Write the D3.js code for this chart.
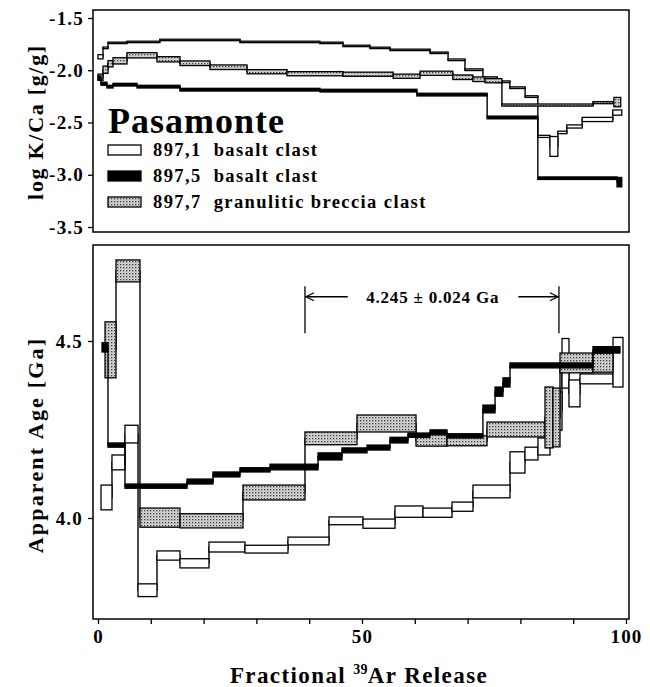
<!DOCTYPE html>
<html>
<head>
<meta charset="utf-8">
<script src="https://cdn.jsdelivr.net/npm/d3@7"></script>
<style>
  body { margin: 0; background: #fff; }
  text { font-family: "Liberation Serif", "Times New Roman", serif; font-weight: bold; fill: #000; }
</style>
</head>
<body>
<svg id="chart" width="650" height="687"></svg>
<script>
// ---- K/Ca spectra (upper panel): step bounds in cumulative % 39Ar, log K/Ca, half-heights
const kcaOpenBounds = [0, 0.95, 1.9, 5.5, 11.7, 26.9, 42.0, 46.4, 51.5, 55.3, 62.9, 66.3, 69.5, 72.9, 75.6, 78.0, 80.9, 83.3, 85.6, 87.1, 88.8, 91.7, 97.5, 99.2];
const kcaOpenValues = [-1.871, -1.786, -1.738, -1.729, -1.710, -1.729, -1.738, -1.767, -1.786, -1.805, -1.833, -1.900, -1.995, -2.071, -2.110, -2.167, -2.252, -2.633, -2.729, -2.595, -2.538, -2.471, -2.405];
const kcaOpenErrors = [0.02, 0.008, 0.007, 0.007, 0.007, 0.007, 0.007, 0.007, 0.007, 0.007, 0.007, 0.008, 0.008, 0.008, 0.008, 0.008, 0.008, 0.01, 0.095, 0.012, 0.015, 0.02, 0.025];

const kcaBlackBounds = [0, 0.57, 1.70, 2.84, 7.39, 15.53, 42.05, 60.4, 73.7, 83.3, 98.3, 99.2];
const kcaBlackValues = [-2.071, -2.129, -2.157, -2.138, -2.157, -2.186, -2.195, -2.233, -2.452, -3.033, -3.071];
const kcaBlackErrors = [0.015, 0.015, 0.013, 0.013, 0.013, 0.013, 0.013, 0.013, 0.013, 0.012, 0.045];

const kcaStippleBounds = [0, 0.95, 1.89, 2.84, 5.49, 11.17, 15.53, 21.21, 28.22, 35.8, 46.4, 55.9, 61.0, 67.2, 71.0, 73.3, 76.5, 93.75, 97.7, 99.0];
const kcaStippleValues = [-2.067, -1.995, -1.938, -1.910, -1.857, -1.895, -1.933, -1.971, -2.014, -2.033, -2.038, -2.057, -2.029, -2.067, -2.086, -2.100, -2.333, -2.310, -2.305];
const kcaStippleErrors = [0.03, 0.035, 0.03, 0.03, 0.025, 0.025, 0.022, 0.022, 0.02, 0.02, 0.02, 0.02, 0.02, 0.022, 0.022, 0.02, 0.01, 0.01, 0.045];

// ---- Age spectra (lower panel): apparent age in Ga, half-heights
const ageOpenBounds = [0.57, 2.65, 5.11, 7.58, 11.17, 15.53, 21.02, 27.84, 35.98, 43.75, 50.19, 56.25, 61.55, 67.05, 71.02, 78.03, 80.87, 83.33, 85.61, 87.88, 89.20, 91.29, 97.54, 99.43];
const ageOpenValues = [4.058, 4.157, 4.237, 3.796, 3.894, 3.872, 3.918, 3.912, 3.935, 3.992, 3.984, 4.018, 4.015, 4.032, 4.075, 4.157, 4.182, 4.202, 4.302, 4.437, 4.352, 4.393, 4.44];
const ageOpenErrors = [0.035, 0.021, 0.025, 0.018, 0.013, 0.013, 0.014, 0.011, 0.011, 0.011, 0.013, 0.016, 0.013, 0.013, 0.018, 0.03, 0.018, 0.024, 0.054, 0.07, 0.038, 0.014, 0.07];

const ageBlackBounds = [0.76, 1.89, 5.11, 16.86, 21.78, 26.89, 32.58, 41.67, 46.21, 50.95, 55.30, 58.71, 62.88, 66.10, 72.90, 75.20, 76.70, 78.03, 93.75, 98.86];
const ageBlackValues = [4.482, 4.206, 4.090, 4.103, 4.123, 4.136, 4.144, 4.174, 4.191, 4.199, 4.220, 4.234, 4.243, 4.232, 4.308, 4.357, 4.383, 4.431, 4.475];
const ageBlackErrors = [0.013, 0.006, 0.006, 0.007, 0.007, 0.006, 0.008, 0.01, 0.007, 0.007, 0.008, 0.006, 0.006, 0.006, 0.011, 0.013, 0.013, 0.007, 0.009];

const ageStippleBounds = [1.33, 3.41, 7.95, 15.53, 27.46, 39.20, 49.05, 60.23, 66.10, 73.67, 84.66, 86.17, 87.50, 93.75, 97.54];
const ageStippleValues = [4.475, 4.698, 4.001, 3.992, 4.072, 4.225, 4.267, 4.219, 4.218, 4.250, 4.284, 4.284, 4.438, 4.439];
const ageStippleErrors = [0.079, 0.031, 0.027, 0.02, 0.021, 0.018, 0.024, 0.016, 0.014, 0.021, 0.086, 0.083, 0.028, 0.027];

// plateau bracket
const plateauRange = [39.2, 87.3];
const plateauLabel = "4.245 \u00B1 0.024 Ga";

// axes ticks and legend
const kcaTicks = [-1.5, -2.0, -2.5, -3.0, -3.5];
const ageTicks = [4.0, 4.5];
const xTicks = d3.range(0, 101, 10);
const xLabelled = [0, 50, 100];
const legendLabels = ["897,1  basalt clast", "897,5  basalt clast", "897,7  granulitic breccia clast"];
const legendStyles = ["open", "black", "stipple"];

// ---------------------------------------------------------------
const svg = d3.select("#chart");

const defs = svg.append("defs");
const pat = defs.append("pattern").attr("id", "stipple")
  .attr("patternUnits", "userSpaceOnUse").attr("width", 3).attr("height", 3);
pat.append("rect").attr("width", 3).attr("height", 3).attr("fill", "#dcdcdc");
pat.append("rect").attr("x", 0).attr("y", 0).attr("width", 1.3).attr("height", 1.3).attr("fill", "#333");
pat.append("rect").attr("x", 1.5).attr("y", 1.5).attr("width", 1).attr("height", 1).attr("fill", "#888");

const x = d3.scaleLinear().domain([0, 100]).range([98, 626]);
const yK = d3.scaleLinear().domain([-1.5, -3.5]).range([18, 227]);
const yA = d3.scaleLinear().domain([4.0, 4.5]).range([518, 341]);

const topFrame = { left: 93, right: 629, top: 10, bottom: 232 };
const botFrame = { left: 93, right: 629, top: 245, bottom: 619 };

function frame(f) {
  svg.append("rect")
    .attr("x", f.left).attr("y", f.top)
    .attr("width", f.right - f.left).attr("height", f.bottom - f.top)
    .attr("fill", "none").attr("stroke", "#000").attr("stroke-width", 1.5);
}
frame(topFrame);
frame(botFrame);

const styleFill = { open: "#fff", black: "#000", stipple: "url(#stipple)" };

function clip(id, f) {
  defs.append("clipPath").attr("id", id).append("rect")
    .attr("x", f.left).attr("y", f.top).attr("width", f.right - f.left).attr("height", f.bottom - f.top);
}
clip("clipTop", topFrame);
clip("clipBot", botFrame);

// one step spectrum: connecting step line, then a box per heating step
function spectrum(y, bounds, values, errors, style, clipId) {
  const g = svg.append("g").attr("clip-path", `url(#${clipId})`);
  const pts = values.map((v, i) => [bounds[i], v]);
  pts.push([bounds[bounds.length - 1], values[values.length - 1]]);
  const line = d3.line().x(d => x(d[0])).y(d => y(d[1])).curve(d3.curveStepAfter);
  g.append("path").attr("d", line(pts))
    .attr("fill", "none").attr("stroke", "#000").attr("stroke-width", 1.4);
  g.selectAll("rect.step").data(values).join("rect")
    .attr("class", "step")
    .attr("x", (d, i) => x(bounds[i]))
    .attr("width", (d, i) => x(bounds[i + 1]) - x(bounds[i]))
    .attr("y", (d, i) => y(d + errors[i]))
    .attr("height", (d, i) => y(d - errors[i]) - y(d + errors[i]))
    .attr("fill", styleFill[style])
    .attr("stroke", "#000").attr("stroke-width", 1.3);
}

// upper panel
spectrum(yK, kcaOpenBounds, kcaOpenValues, kcaOpenErrors, "open", "clipTop");
spectrum(yK, kcaStippleBounds, kcaStippleValues, kcaStippleErrors, "stipple", "clipTop");
spectrum(yK, kcaBlackBounds, kcaBlackValues, kcaBlackErrors, "black", "clipTop");

// lower panel
spectrum(yA, ageOpenBounds, ageOpenValues, ageOpenErrors, "open", "clipBot");
spectrum(yA, ageStippleBounds, ageStippleValues, ageStippleErrors, "stipple", "clipBot");
spectrum(yA, ageBlackBounds, ageBlackValues, ageBlackErrors, "black", "clipBot");

// axes
const fmt = d => (d < 0 ? "-" : "") + Math.abs(d).toFixed(1);
const axK = svg.append("g").attr("transform", `translate(${topFrame.left},0)`)
  .call(d3.axisLeft(yK).tickValues(kcaTicks).tickSize(5).tickPadding(4).tickFormat(fmt));
const axA = svg.append("g").attr("transform", `translate(${botFrame.left},0)`)
  .call(d3.axisLeft(yA).tickValues(ageTicks).tickSize(5).tickPadding(5).tickFormat(fmt));
const axX = svg.append("g").attr("transform", `translate(0,${botFrame.bottom})`)
  .call(d3.axisBottom(x).tickValues(xTicks).tickSize(5).tickPadding(6)
    .tickFormat(d => xLabelled.includes(d) ? d : ""));
[axK, axA, axX].forEach(a => {
  a.select(".domain").remove();
  a.selectAll(".tick line").attr("stroke", "#000").attr("stroke-width", 1.3);
  a.selectAll(".tick text").attr("font-size", 19).attr("letter-spacing", 1.2)
    .attr("font-family", null).attr("fill", "#000");
});

// axis titles
svg.append("text")
  .attr("transform", `translate(43,122) rotate(-90)`)
  .attr("text-anchor", "middle").attr("font-size", 22).attr("letter-spacing", 1.7)
  .text("log K/Ca [g/g]");
svg.append("text")
  .attr("transform", `translate(43,445) rotate(-90)`)
  .attr("text-anchor", "middle").attr("font-size", 22).attr("letter-spacing", 2.2)
  .text("Apparent Age [Ga]");
const xt = svg.append("text")
  .attr("x", 359).attr("y", 683).attr("text-anchor", "middle")
  .attr("font-size", 23).attr("letter-spacing", 1.4);
xt.append("tspan").text("Fractional ");
xt.append("tspan").attr("font-size", 14).attr("dy", -9).attr("letter-spacing", 0.3).text("39");
xt.append("tspan").attr("dy", 9).text("Ar Release");

// legend
svg.append("text").attr("x", 108).attr("y", 133).attr("font-size", 36).attr("letter-spacing", 1)
  .text("Pasamonte");
const legendRows = [150, 176, 202];
legendLabels.forEach((lab, i) => {
  svg.append("rect").attr("x", 108).attr("y", legendRows[i] - 5).attr("width", 33).attr("height", 10)
    .attr("fill", styleFill[legendStyles[i]]).attr("stroke", "#000").attr("stroke-width", 1.3);
  svg.append("text").attr("x", 153).attr("y", legendRows[i] + 6).attr("font-size", 18.5)
    .attr("letter-spacing", 1.4).style("white-space", "pre").text(lab);
});

// plateau bracket with arrows
const bracketTop = 4.655, bracketBottom = 4.522, bracketY = 4.625;
const xl = x(plateauRange[0]), xr = x(plateauRange[1]);
const br = svg.append("g").attr("stroke", "#000").attr("stroke-width", 1.3).attr("fill", "none");
br.append("line").attr("x1", xl).attr("x2", xl).attr("y1", yA(bracketTop)).attr("y2", yA(bracketBottom));
br.append("line").attr("x1", xr).attr("x2", xr).attr("y1", yA(bracketTop)).attr("y2", yA(bracketBottom));
const yb = yA(bracketY);
br.append("line").attr("x1", xl + 1).attr("x2", x(47.3)).attr("y1", yb).attr("y2", yb);
br.append("line").attr("x1", x(79.6)).attr("x2", xr - 1).attr("y1", yb).attr("y2", yb);
br.append("path").attr("d", `M${xl + 9},${yb - 4}L${xl + 1},${yb}L${xl + 9},${yb + 4}`);
br.append("path").attr("d", `M${xr - 9},${yb - 4}L${xr - 1},${yb}L${xr - 9},${yb + 4}`);
svg.append("text").attr("x", x(63.4)).attr("y", yb + 6).attr("text-anchor", "middle")
  .attr("font-size", 17).attr("letter-spacing", 0.8).text(plateauLabel);
</script>
</body>
</html>
